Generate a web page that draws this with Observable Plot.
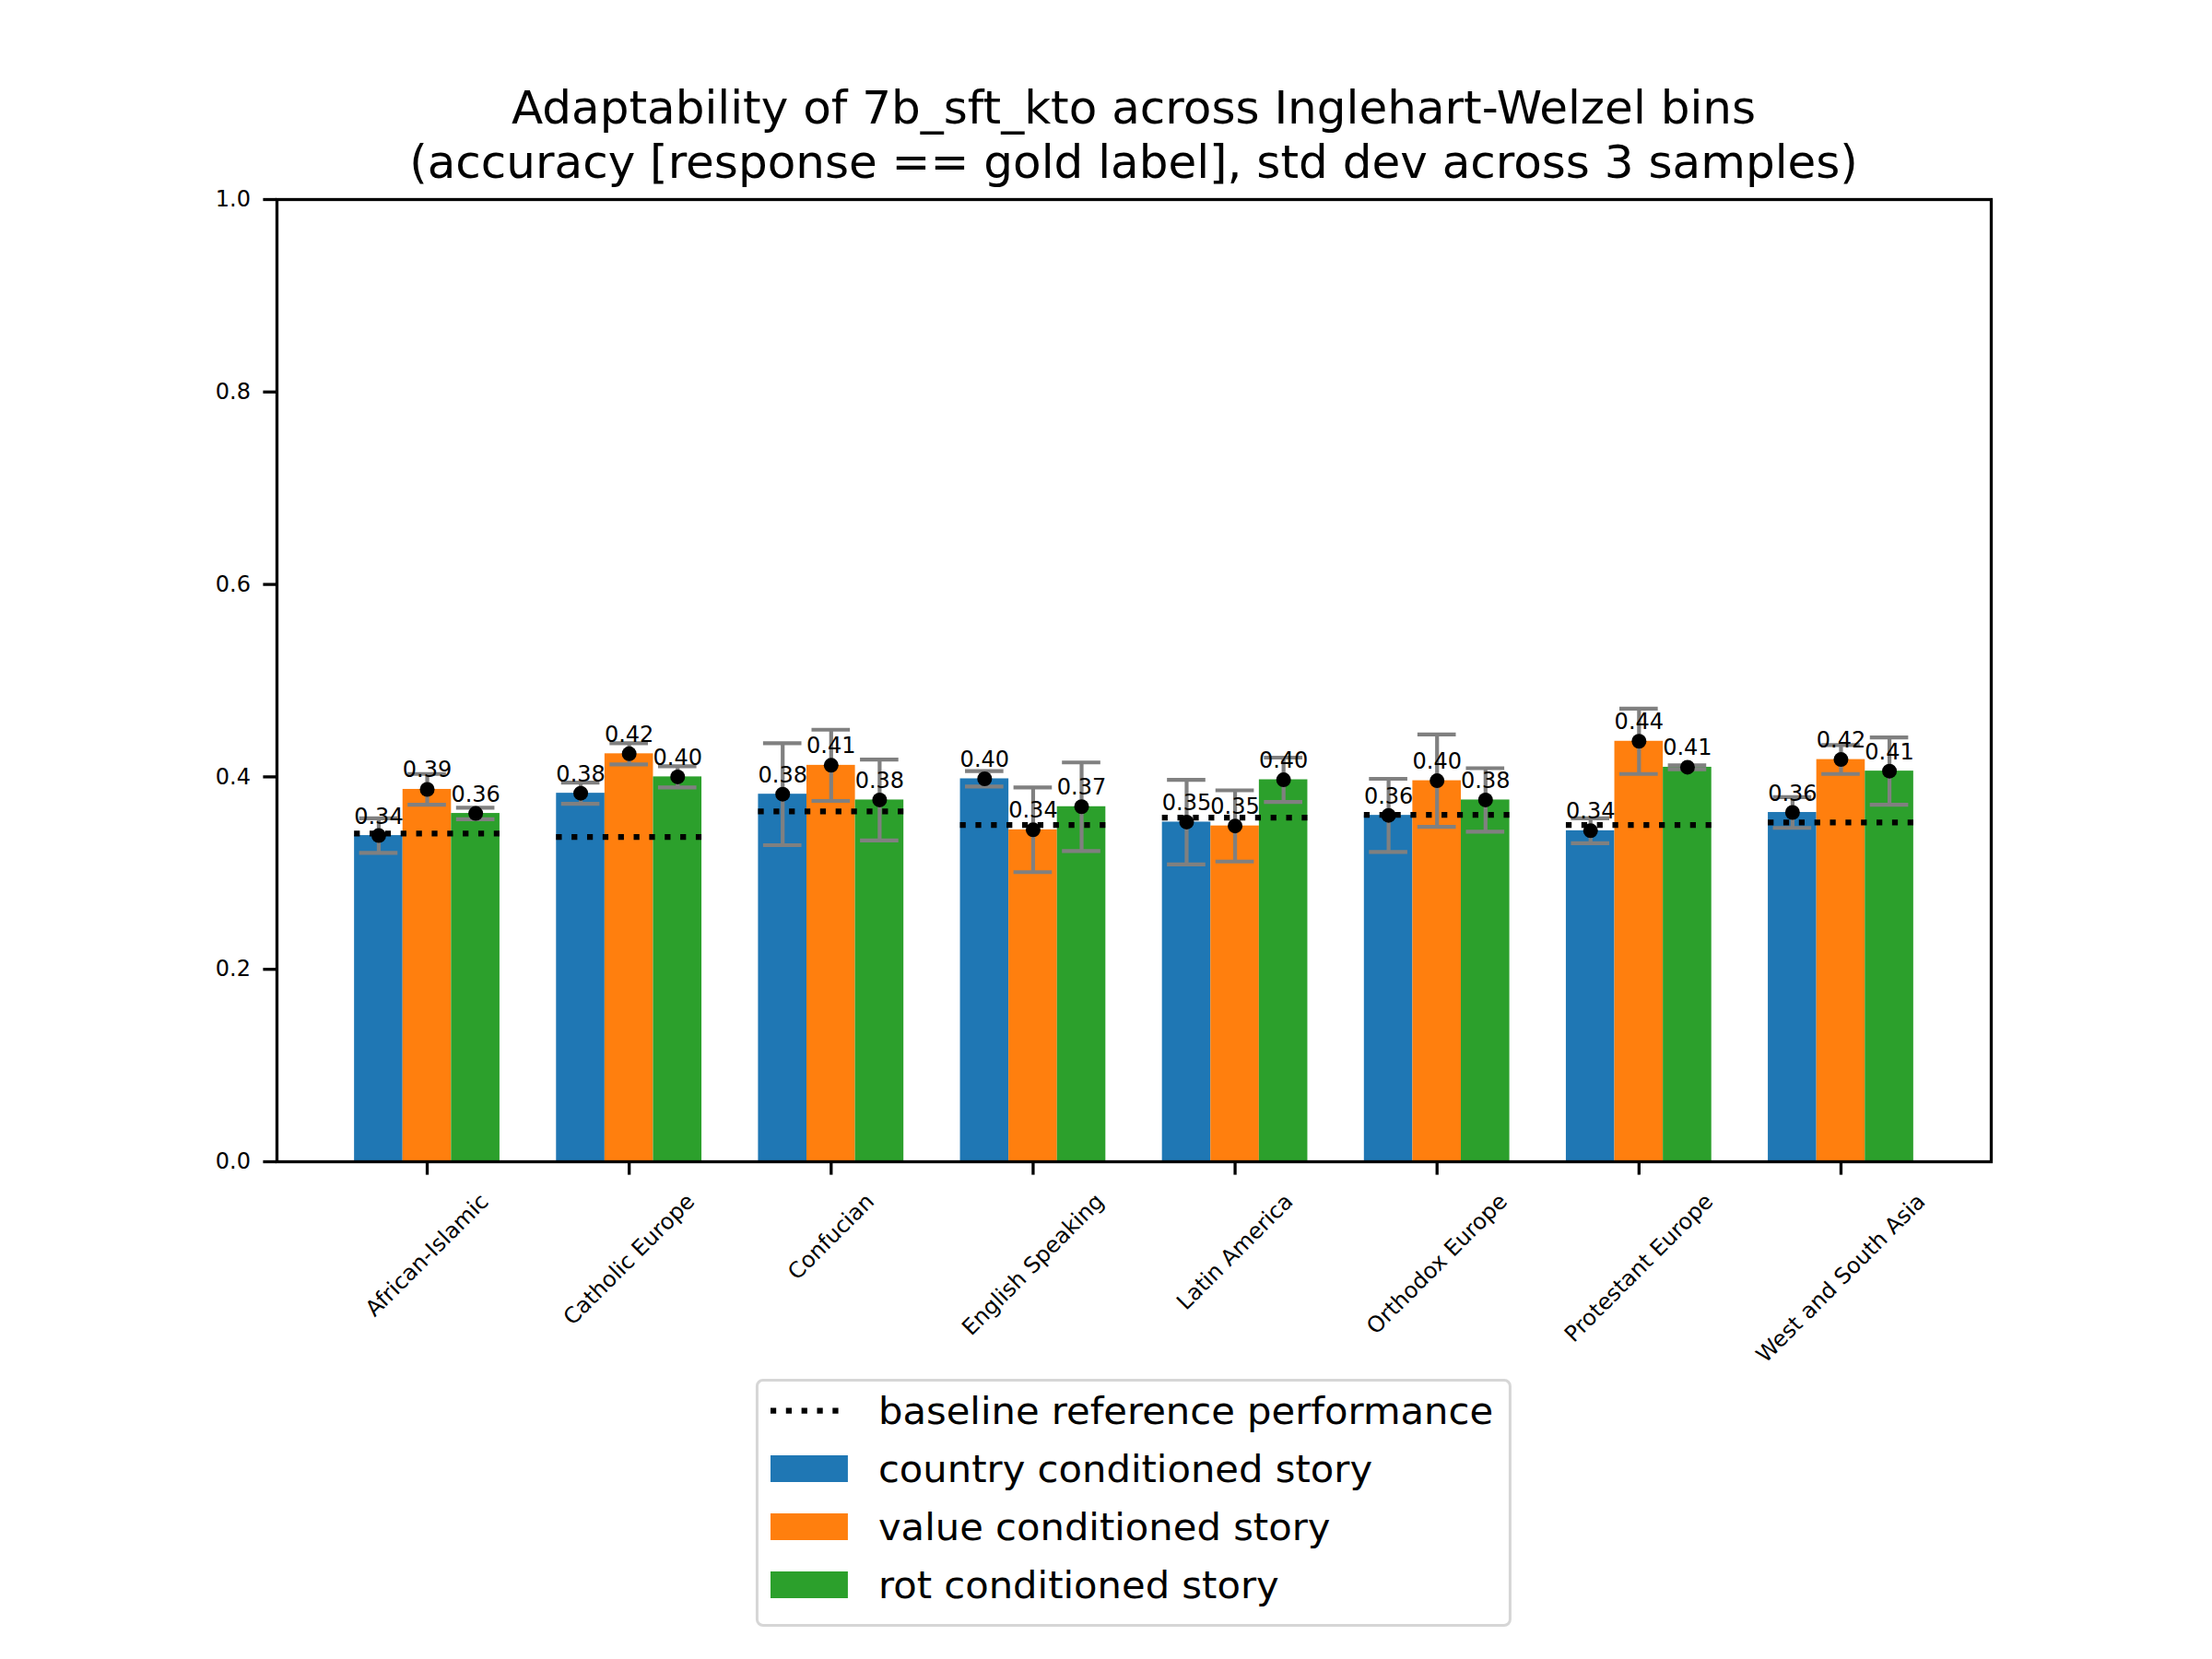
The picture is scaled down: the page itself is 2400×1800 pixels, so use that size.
<!DOCTYPE html>
<html>
<head>
<meta charset="utf-8">
<script src="https://cdn.jsdelivr.net/npm/d3@7"></script>
<script src="https://cdn.jsdelivr.net/npm/@observablehq/plot@0.6"></script>
<style>
  body { margin: 0; background: #fff; }
  #fig { position: relative; width: 2400px; height: 1800px; background: #fff; font-family: "DejaVu Sans", sans-serif; color: #000; overflow: hidden; }
  #title { position: absolute; left: 1230px; top: 88px; transform: translateX(-50%); text-align: center; font-size: 50px; line-height: 59px; white-space: nowrap; }
  #chart { position: absolute; left: 0; top: 0; }
  #legend { position: absolute; left: 1230px; top: 1496px; transform: translateX(-50%); box-sizing: border-box; border: 3px solid #d6d6d6; border-radius: 8px; background: rgba(255,255,255,0.8); padding: 0 17px 11px 13px; font-size: 41.7px; white-space: nowrap; }
  #legend .row { display: flex; align-items: center; height: 63px; }
  #legend .sw { width: 84px; height: 29px; margin-right: 33px; flex: none; }
</style>
</head>
<body>
<div id="fig">
  <div id="chart"></div>
  <div id="title"></div>
  <div id="legend"></div>
</div>
<script>
// ---- data ----
const titleLines = [
  "Adaptability of 7b_sft_kto across Inglehart-Welzel bins",
  "(accuracy [response == gold label], std dev across 3 samples)"
];
const categories = ["African-Islamic", "Catholic Europe", "Confucian", "English Speaking", "Latin America", "Orthodox Europe", "Protestant Europe", "West and South Asia"];
const seriesNames = ["country conditioned story", "value conditioned story", "rot conditioned story"];
const baselineName = "baseline reference performance";
const seriesColors = ["#1f77b4", "#ff7f0e", "#2ca02c"];

const countryMean = [0.339, 0.383, 0.382, 0.398, 0.353, 0.360, 0.344, 0.363];
const countryStd  = [0.018, 0.011, 0.053, 0.008, 0.044, 0.038, 0.013, 0.016];
const valueMean   = [0.387, 0.424, 0.412, 0.345, 0.349, 0.396, 0.437, 0.418];
const valueStd    = [0.016, 0.011, 0.037, 0.044, 0.037, 0.048, 0.034, 0.015];
const rotMean     = [0.362, 0.400, 0.376, 0.369, 0.397, 0.376, 0.410, 0.406];
const rotStd      = [0.006, 0.011, 0.042, 0.046, 0.023, 0.033, 0.002, 0.035];
const baseline    = [0.341, 0.3375, 0.364, 0.350, 0.3576, 0.3605, 0.350, 0.3525];
const yTicks = [0.0, 0.2, 0.4, 0.6, 0.8, 1.0];

// ---- derived tables ----
const barWidth = 0.24;
const capHalf = 0.095;
const means = [countryMean, valueMean, rotMean];
const stds = [countryStd, valueStd, rotStd];
const rows = [];
categories.forEach((c, i) => {
  means.forEach((arr, k) => {
    rows.push({cat: c, i, k, series: seriesNames[k], v: arr[i], s: stds[k][i], xc: i + (k - 1) * barWidth});
  });
});
const baseRows = categories.map((c, i) => ({cat: c, i, b: baseline[i]}));

// title
document.getElementById("title").innerHTML = titleLines.join("<br>");

// measure label widths for matplotlib-like centered rotated labels
const ctx = document.createElement("canvas").getContext("2d");
ctx.font = "24px 'DejaVu Sans'";
const labelMarks = categories.map((c, i) => {
  const L = ctx.measureText(c).width;
  const off = 14.6 + 14.6 + (L + 28) * 0.3536;
  return Plot.text([{c, i}], {x: "i", y: () => 0, text: "c", rotate: -45, textAnchor: "middle", lineAnchor: "middle", fontSize: 24, fill: "black", dy: off});
});

const fmt = d3.format(".2f");
const dash = "6.25,10.6";

const chart = Plot.plot({
  width: 2400,
  height: 1480,
  marginTop: 216,
  marginBottom: 220,
  marginLeft: 300,
  marginRight: 240,
  style: {fontFamily: "DejaVu Sans", fontSize: "24px", background: "transparent", overflow: "visible", color: "black"},
  x: {type: "linear", domain: [-0.744, 7.744]},
  y: {domain: [0, 1]},
  color: {domain: seriesNames, range: seriesColors},
  marks: [
    Plot.rectY(rows, {x1: d => d.xc - barWidth / 2, x2: d => d.xc + barWidth / 2, y1: 0, y2: "v", fill: "series"}),
    Plot.ruleY(baseRows, {x1: d => d.i - 1.5 * barWidth, x2: d => d.i + 1.5 * barWidth, y: "b", stroke: "black", strokeWidth: 6.25, strokeDasharray: dash}),
    Plot.ruleX(rows, {x: "xc", y1: d => d.v - d.s, y2: d => d.v + d.s, stroke: "#808080", strokeWidth: 4.2}),
    Plot.ruleY(rows, {y: d => d.v + d.s, x1: d => d.xc - capHalf, x2: d => d.xc + capHalf, stroke: "#808080", strokeWidth: 4.2}),
    Plot.ruleY(rows, {y: d => d.v - d.s, x1: d => d.xc - capHalf, x2: d => d.xc + capHalf, stroke: "#808080", strokeWidth: 4.2}),
    Plot.dot(rows, {x: "xc", y: "v", r: 8, fill: "black", stroke: null}),
    Plot.text(rows, {x: "xc", y: "v", text: d => fmt(d.v), dy: -13, lineAnchor: "bottom", textAnchor: "middle", fontSize: 24, fill: "black"}),
    Plot.axisY({ticks: yTicks, tickFormat: d3.format(".1f"), tickSize: 14.6, tickPadding: 14, fontSize: 24, strokeWidth: 3.3, label: null}),
    Plot.axisX({ticks: d3.range(categories.length), tickFormat: () => "", tickSize: 14.6, strokeWidth: 3.3, label: null}),
    ...labelMarks,
    Plot.frame({stroke: "black", strokeWidth: 3.3})
  ]
});
document.getElementById("chart").appendChild(chart);

// legend
const legend = document.getElementById("legend");
const mk = (swatch, label) => {
  const row = document.createElement("div");
  row.className = "row";
  row.innerHTML = swatch + `<span>${label}</span>`;
  legend.appendChild(row);
};
mk(`<svg class="sw" width="84" height="29"><line x1="0" y1="14.5" x2="84" y2="14.5" stroke="black" stroke-width="6.25" stroke-dasharray="6.25 10.6"/></svg>`, baselineName);
seriesNames.forEach((s, k) => mk(`<svg class="sw" width="84" height="29"><rect width="84" height="29" fill="${seriesColors[k]}"/></svg>`, s));
</script>
</body>
</html>
